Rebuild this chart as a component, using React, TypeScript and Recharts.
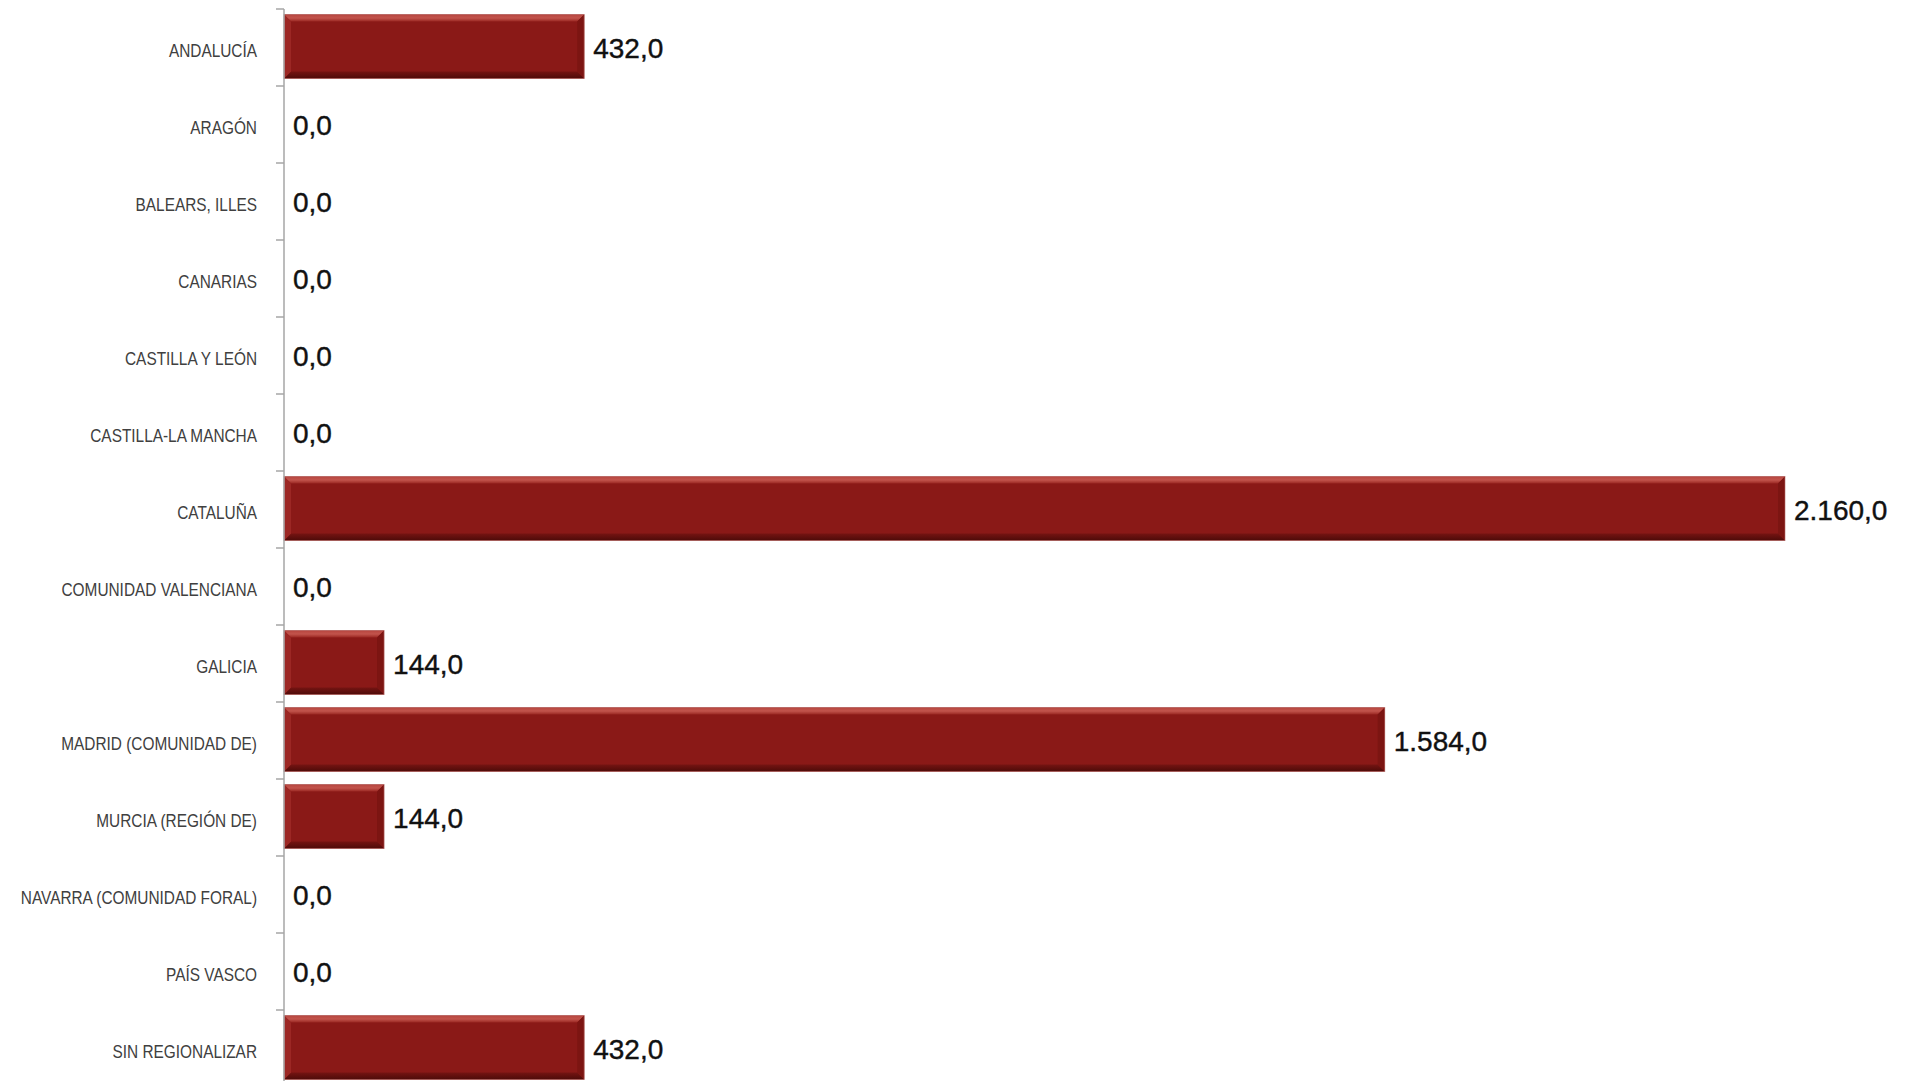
import React from "react";
import { BarChart, Bar, XAxis, YAxis, LabelList } from "recharts";

const regions = [
  "ANDALUCÍA",
  "ARAGÓN",
  "BALEARS, ILLES",
  "CANARIAS",
  "CASTILLA Y LEÓN",
  "CASTILLA-LA MANCHA",
  "CATALUÑA",
  "COMUNIDAD VALENCIANA",
  "GALICIA",
  "MADRID (COMUNIDAD DE)",
  "MURCIA (REGIÓN DE)",
  "NAVARRA (COMUNIDAD FORAL)",
  "PAÍS VASCO",
  "SIN REGIONALIZAR",
];

const amounts = [432, 0, 0, 0, 0, 0, 2160, 0, 144, 1584, 144, 0, 0, 432];

const chartData = regions.map((name, i) => ({ name, value: amounts[i] }));

const BAND = 77; // height of one category row

// spanish number format: 2.160,0
function fmt(v: number) {
  const [int, dec] = Number(v).toFixed(1).split(".");
  return int.replace(/\B(?=(\d{3})+(?!\d))/g, ".") + "," + dec;
}

// narrow font isn't installed, so squeeze the regular one horizontally
function RegionTick({ x, y, payload }: any) {
  return (
    <g>
      <line x1={x - 8} x2={x} y1={y - BAND / 2} y2={y - BAND / 2} stroke="#a6a6a6" strokeWidth={1.5} />
      <text
        transform={`translate(${x - 27},${y + 3}) scale(0.88,1)`}
        textAnchor="end"
        dominantBaseline="central"
        fill="#404040"
        fontSize={17.5}
        fontFamily="'Liberation Sans', Arial, sans-serif"
      >
        {payload.value}
      </text>
    </g>
  );
}

// bar with the bevelled look of the original
function BevelBar({ x, y, width, height }: any) {
  if (!width || width <= 0) return null;
  const b = Math.min(7, width / 2, height / 2);
  const r = x + width;
  const btm = y + height;
  return (
    <g transform="translate(0,-1.5)">
      <rect x={x} y={y} width={width} height={height} fill="#8a1917" />
      <polygon points={`${x},${y} ${r},${y} ${r - b},${y + b} ${x + b},${y + b}`} fill="url(#bevTop)" />
      <polygon points={`${x},${btm} ${r},${btm} ${r - b},${btm - b} ${x + b},${btm - b}`} fill="url(#bevBottom)" />
      <polygon points={`${x},${y} ${x + b},${y + b} ${x + b},${btm - b} ${x},${btm}`} fill="#9c2724" />
      <polygon points={`${r},${y} ${r - b},${y + b} ${r - b},${btm - b} ${r},${btm}`} fill="#7c1512" />
      <rect x={x} y={y} width={width} height={height} fill="none" stroke="#b86a68" strokeOpacity={0.6} strokeWidth={1} />
    </g>
  );
}

export default function App() {
  return (
    <div style={{ position: "fixed", left: 0, top: 0, width: 1908, height: 1081, overflow: "hidden", background: "#fff" }}>
      <BarChart
        width={1908}
        height={1090}
        data={chartData}
        layout="vertical"
        margin={{ top: 9, right: 123, left: 0, bottom: 3 }}
      >
        <defs>
          <linearGradient id="bevTop" x1="0" y1="0" x2="0" y2="1">
            <stop offset="0%" stopColor="#b7463f" />
            <stop offset="50%" stopColor="#c2544c" />
            <stop offset="100%" stopColor="#9a2722" />
          </linearGradient>
          <linearGradient id="bevBottom" x1="0" y1="1" x2="0" y2="0">
            <stop offset="0%" stopColor="#4e0b09" />
            <stop offset="100%" stopColor="#751412" />
          </linearGradient>
        </defs>
        <XAxis type="number" hide domain={[0, 2160]} />
        <YAxis
          type="category"
          dataKey="name"
          width={284}
          tickSize={0}
          tickMargin={0}
          tickLine={false}
          axisLine={{ stroke: "#a6a6a6", strokeWidth: 1.5 }}
          tick={<RegionTick />}
          interval={0}
        />
        <Bar dataKey="value" barSize={64} shape={<BevelBar />} isAnimationActive={false}>
          <LabelList
            dataKey="value"
            position="right"
            offset={9}
            formatter={(v: any) => fmt(v)}
            fill="#111"
            stroke="#111"
            strokeWidth={0.4}
            fontSize={28}
            fontFamily="'Liberation Sans', Arial, sans-serif"
          />
        </Bar>
      </BarChart>
    </div>
  );
}
